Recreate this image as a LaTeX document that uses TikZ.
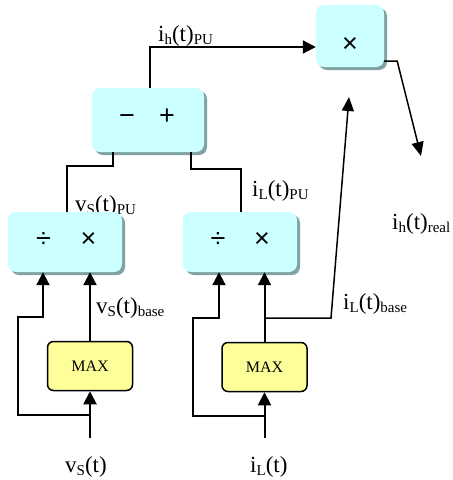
\documentclass[tikz,border=0pt]{standalone}
\usepackage{fontspec}
\setmainfont{Liberation Serif}
\newfontfamily\symfont{Liberation Sans}
\usetikzlibrary{arrows.meta,shadows}
\definecolor{cyanfill}{HTML}{CCFFFF}
\definecolor{cyanshade}{HTML}{7FA3A3}
\definecolor{maxfill}{HTML}{FFFF99}
\newcommand\sbs[1]{\raisebox{-3pt}{\fontsize{15}{15}\selectfont #1}}
\begin{document}
\begin{tikzpicture}[x=1pt,y=-1pt,
  opbox/.style={rectangle, rounded corners=8pt, fill=cyanfill, draw=none,
    drop shadow={shadow xshift=3pt,shadow yshift=-3pt,fill=cyanshade,opacity=1}, inner sep=0},
  maxbox/.style={rectangle, rounded corners=6pt, fill=maxfill, draw=black, line width=1.5pt,
    minimum width=85pt, minimum height=49pt, font=\fontsize{16}{16}\selectfont, inner sep=0},
  sym/.style={font=\symfont\fontsize{27}{27}\selectfont, inner sep=0, anchor=base},
  lab/.style={anchor=base west, inner sep=0, font=\fontsize{23}{25}\selectfont},
  wire/.style={line width=2pt},
  arr/.style={wire, -{Triangle[length=13pt,width=13pt]}},
  thinarr/.style={line width=1.5pt, -{Triangle[length=14pt,width=12pt]}}
]
\useasboundingbox (0,0) rectangle (453,480);
% labels
\node[lab] (lihpu) at (158,41) {i\sbs{h}(t)\sbs{PU}};
\node[lab] (lvspu) at (75,211) {v\sbs{S}(t)\sbs{PU}};
\node[lab] (lilpu) at (252,196) {i\sbs{L}(t)\sbs{PU}};
\node[lab] (lvsb) at (96,313) {v\sbs{S}(t)\sbs{base}};
\node[lab] (lilb) at (343,309) {i\sbs{L}(t)\sbs{base}};
\node[lab] (lihr) at (392,229) {i\sbs{h}(t)\sbs{real}};
\node[lab] (lvs) at (65,472) {v\sbs{S}(t)};
\node[lab] (lil) at (250,472) {i\sbs{L}(t)};
% boxes
\node[opbox, minimum width=68pt, minimum height=62pt] (mul) at (350,36) {};
\node[opbox, minimum width=112pt, minimum height=64pt] (sub) at (148,120) {};
\node[opbox, minimum width=114pt, minimum height=60pt] (divL) at (65,242) {};
\node[opbox, minimum width=114pt, minimum height=60pt] (divR) at (240,242) {};
\node[maxbox] (maxL) at (90,366) {MAX};
\node[maxbox] (maxR) at (264.5,367) {MAX};
% symbols
\node[sym] (mulx) at (350,52) {×};
\node[sym] (subm) at (127,124) {−};
\node[sym] (subp) at (167,124) {+};
\node[sym] (divLd) at (43.5,247) {÷};
\node[sym] (divLx) at (88.5,247) {×};
\node[sym] (divRd) at (218,247) {÷};
\node[sym] (divRx) at (262,247) {×};
% coordinates
\coordinate (ihout) at (421,156);
\coordinate (mulin) at (349,97);
\coordinate (vsin) at (90,438);
\coordinate (brL) at (90,415);
\coordinate (iLin) at (264.5,438);
\coordinate (brR) at (264.5,416);
\coordinate (iLb) at (264.5,318);
% wires
\draw[arr] ([xshift=2pt]sub.north) |- ([yshift=-11pt]mul.west);
\draw[thinarr] ([yshift=-25pt]mul.east) -- ++(13,0) -- (ihout);
\draw[thinarr] (iLb) -- (331,318) -- (mulin);
\draw[wire] ([xshift=-35pt]sub.south) -- ++(0,14) -| ([xshift=2pt]divL.north);
\draw[wire] ([xshift=43pt]sub.south) -- ++(0,17) -| ([xshift=1pt]divR.north);
\draw[arr] (vsin) -- (maxL.south);
\draw[arr] (brL) -| (18,317) -| ([xshift=-22pt]divL.south);
\draw[arr] (maxL.north) -- (maxL.north |- divL.south);
\draw[arr] (iLin) -- (maxR.south);
\draw[arr] (brR) -| (193,318) -| ([xshift=-21pt]divR.south);
\draw[arr] (maxR.north) -- (maxR.north |- divR.south);
\end{tikzpicture}
\end{document}
